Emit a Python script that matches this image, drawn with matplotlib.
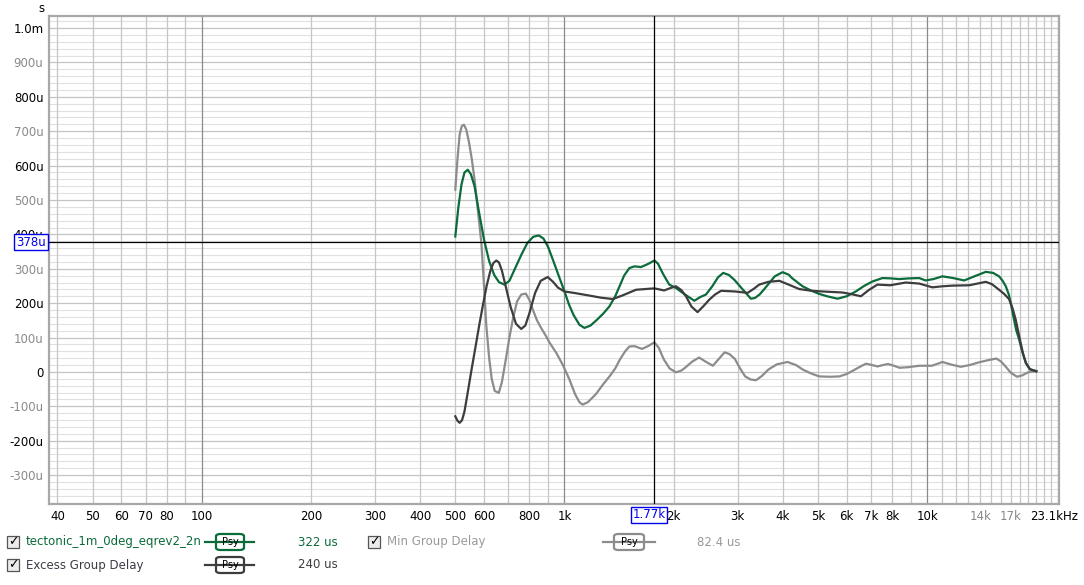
import matplotlib
matplotlib.use("Agg")
import matplotlib.pyplot as plt
from matplotlib.patches import Rectangle, FancyBboxPatch
from matplotlib.lines import Line2D

W, H = 1084, 585

# measured curve: tectonic_1m_0deg_eqrev2_2n (group delay, microseconds)
meas_f = [500, 510, 520, 530, 541, 552, 565, 580, 600, 620, 640, 660, 683, 705, 730,
          760, 790, 820, 849, 875, 900, 930, 960, 1000, 1030, 1060, 1100, 1135, 1180,
          1230, 1280, 1331, 1380, 1420, 1460, 1510, 1560, 1626, 1700, 1770, 1810,
          1870, 1945, 2030, 2150, 2281, 2370, 2455, 2560, 2650, 2740, 2840, 2940,
          3100, 3265, 3350, 3450, 3550, 3673, 3800, 3994, 4150, 4250, 4536, 4800,
          5037, 5300, 5659, 6000, 6357, 6700, 7066, 7530, 7950, 8372, 8900, 9510,
          9900, 10400, 11020, 11800, 12650, 13500, 14510, 15200, 15790, 16150,
          16480, 16800, 17010, 17300, 17600, 17940, 18300, 18720, 19200, 20000]
meas_gd = [394, 480, 545, 580, 588, 575, 540, 470, 385, 322, 282, 261, 254, 265, 300,
           340, 375, 393, 397, 388, 365, 325, 285, 234, 195, 165, 137, 128, 135,
           152, 170, 191, 220, 250, 280, 302, 307, 305, 314, 324, 315,
           285, 254, 244, 225, 207, 218, 225, 250, 275, 288, 282, 268,
           240, 213, 215, 225, 240, 259, 278, 290, 283, 272, 249, 236,
           227, 220, 213, 220, 234, 250, 263, 273, 272, 270, 272, 273,
           266, 270, 278, 273, 266, 278, 291, 288, 278, 265,
           249, 225, 200, 160, 122, 94, 58, 26, 8, 2]

# excess group delay
excess_f = [500, 507, 514, 522, 530, 540, 555, 570, 583, 596, 610, 625, 637, 649,
            660, 672, 690, 710, 735, 760, 780, 800, 830, 860, 899, 930, 960, 1000,
            1060, 1172, 1260, 1359, 1450, 1575, 1770, 1883, 1960, 2030, 2100, 2163,
            2240, 2328, 2420, 2507, 2600, 2703, 2950, 3200, 3330, 3444, 3650, 3912,
            4150, 4440, 4800, 5148, 5848, 6200, 6566, 6900, 7295, 7900, 8730, 9510,
            10340, 11000, 11750, 13060, 14510, 15100, 15790, 16300, 16820, 17200,
            17550, 17850, 18110, 18400, 18720, 19200, 20000]
excess_gd = [-129, -142, -148, -140, -115, -65, 10, 80, 140, 195, 250, 295, 317, 324,
             318, 295, 245, 190, 140, 125, 135, 170, 230, 265, 276, 262, 245, 234,
             230, 222, 216, 212, 223, 239, 243, 237, 244, 249, 238, 220,
             190, 174, 192, 210, 225, 236, 234, 230, 242, 254, 262, 265,
             254, 241, 236, 234, 231, 226, 220, 238, 254, 252, 260, 257,
             246, 249, 251, 252, 262, 255, 239, 227, 212, 185,
             152, 115, 84, 52, 26, 8, 2]

# minimum-phase group delay
min_f = [500, 507, 514, 521, 528, 536, 545, 555, 565, 577, 590, 600, 609, 620, 630,
         642, 659, 672, 690, 705, 721, 740, 760, 782, 800, 820, 840, 860, 885, 910,
         950, 990, 1032, 1070, 1100, 1122, 1160, 1220, 1280, 1331, 1380, 1420, 1470,
         1510, 1560, 1636, 1700, 1770, 1820, 1880, 1950, 2030, 2100, 2150, 2250,
         2350, 2450, 2565, 2650, 2763, 2850, 2950, 3050, 3150, 3260, 3373, 3500,
         3650, 3850, 4120, 4350, 4540, 4800, 5040, 5400, 5730, 6000, 6200, 6500,
         6780, 7050, 7300, 7550, 7800, 8100, 8400, 8900, 9510, 10300, 10700, 11020,
         11600, 12380, 13100, 13900, 14700, 15520, 16000, 16480, 17000, 17700,
         18300, 18900, 19400, 20000]
min_gd = [530, 620, 690, 715, 719, 705, 670, 620, 560, 470, 375, 250, 133, 40, -20,
          -55, -61, -30, 40, 100, 155, 205, 225, 228, 210, 178, 150, 130, 108, 85,
          55, 20, -22, -65, -88, -95, -88, -65, -35, -13, 10, 35, 60,
          74, 75, 67, 75, 86, 70, 36, 10, -1, 4, 12, 30,
          42, 30, 18, 35, 57, 52, 38, 10, -13, -22, -24, -12,
          7, 22, 29, 20, 7, -5, -13, -14, -13, -6, 2, 14,
          24, 20, 16, 20, 23, 18, 12, 14, 18, 18, 24, 29,
          22, 15, 20, 28, 34, 39, 30, 15, -2, -14,
          -10, -2, 1, 2]

cursor_f, cursor_gd = 1770, 378

x_ticks = [40, 50, 60, 70, 80, 100, 200, 300, 400, 500, 600, 800, 1000, 2000,
           3000, 4000, 5000, 6000, 7000, 8000, 10000, 14000, 17000]
x_labels = ["40", "50", "60", "70", "80", "100", "200", "300", "400", "500", "600",
            "800", "1k", "2k", "3k", "4k", "5k", "6k", "7k", "8k", "10k", "14k", "17k"]
y_ticks = [1000, 900, 800, 700, 600, 500, 400, 300, 200, 100, 0, -100, -200, -300]
y_labels = ["1.0m", "900u", "800u", "700u", "600u", "500u", "400u", "300u", "200u",
            "100u", "0", "-100u", "-200u", "-300u"]

GREEN = "#0b6b3a"
DARK = "#3d3d3d"
LIGHT = "#8c8c8c"


def fx(x):
    return x / W


def fy(y):
    return 1 - y / H


fig = plt.figure(figsize=(W / 100, H / 100), dpi=100)
ax = fig.add_axes([fx(49), fy(504), fx(1059) - fx(49), fy(16) - fy(504)])
ax.set_xscale("log")
ax.set_xlim(37.9, 23100)
ax.set_ylim(-384, 1035)

# grid
for v in range(-380, 1040, 20):
    if v % 100:
        ax.axhline(v, color="#e0e0e0", lw=0.8, zorder=0)
for v in range(-300, 1100, 100):
    ax.axhline(v, color="#c4c4c4", lw=0.9, zorder=0)
vlines = [40, 50, 60, 70, 80, 90] + [m * 100 for m in range(2, 10)] \
    + [m * 1000 for m in range(2, 10)] + [m * 1000 for m in range(11, 24)]
for v in vlines:
    ax.axvline(v, color="#c6c6c6", lw=0.9, zorder=0)
for v in [100, 1000, 10000]:
    ax.axvline(v, color="#8a8a8a", lw=0.9, zorder=0)

ax.plot(min_f, min_gd, color=LIGHT, lw=1.6, zorder=3, solid_joinstyle="round")
ax.plot(meas_f, meas_gd, color=GREEN, lw=1.6, zorder=4, solid_joinstyle="round")
ax.plot(excess_f, excess_gd, color=DARK, lw=1.6, zorder=5, solid_joinstyle="round")

ax.axhline(cursor_gd, color="black", lw=0.9, zorder=6)
ax.axvline(cursor_f, color="black", lw=0.9, zorder=6)

for s in ax.spines.values():
    s.set_color("#a8a8a8")
    s.set_linewidth(1.6)

ax.set_xticks(x_ticks)
ax.set_xticklabels(x_labels)
ax.xaxis.set_minor_locator(matplotlib.ticker.NullLocator())
ax.set_yticks(y_ticks)
ax.set_yticklabels(y_labels)
ax.tick_params(length=0, labelsize=8.5, pad=4)
for lab in ax.get_xticklabels():
    lab.set_color("#888888" if lab.get_text() in ("14k", "17k") else "black")
for i, lab in enumerate(ax.get_yticklabels()):
    lab.set_color("black" if i % 2 == 0 else "#8a8a8a")

fig.text(fx(1054), fy(517), "23.1kHz", fontsize=8.5, ha="center", va="center")
fig.text(fx(41), fy(8), "s", fontsize=8.5, ha="center", va="center")

# cursor readouts
fig.text(fx(31), fy(242), "378u", fontsize=8.5, color="#0000ee", ha="center", va="center",
         bbox=dict(boxstyle="square,pad=0.15", fc="white", ec="#0000ee", lw=1), zorder=10)
fig.text(fx(649), fy(515), "1.77k", fontsize=8.5, color="#0000ee", ha="center", va="center",
         bbox=dict(boxstyle="square,pad=0.15", fc="white", ec="#0000ee", lw=1), zorder=10)


def checkbox(x, y):
    fig.add_artist(Rectangle((fx(x - 6), fy(y + 6)), 12 / W, 12 / H, transform=fig.transFigure,
                             fc="#ececec", ec="#555555", lw=0.9))
    fig.text(fx(x), fy(y), "\u2713", fontsize=9, ha="center", va="center", color="black",
             fontweight="bold")


def psy(x0, x1, bx0, bx1, y, color):
    fig.add_artist(Line2D([fx(x0), fx(x1)], [fy(y), fy(y)], transform=fig.transFigure,
                          color=color, lw=1.6))
    fig.add_artist(FancyBboxPatch((fx(bx0), fy(y + 8)), (bx1 - bx0) / W, 16 / H,
                                  boxstyle="round,pad=0,rounding_size=0.004",
                                  transform=fig.transFigure, fc="white", ec=color, lw=1.6))
    fig.text(fx((bx0 + bx1) / 2), fy(y), "Psy", fontsize=7, ha="center", va="center")


checkbox(13, 542)
fig.text(fx(26), fy(542), "tectonic_1m_0deg_eqrev2_2n", fontsize=8.5, color=GREEN, va="center")
psy(205, 254, 216, 244, 542, GREEN)
fig.text(fx(298), fy(542), "322 us", fontsize=8.5, color=GREEN, va="center")

checkbox(13, 565)
fig.text(fx(26), fy(565), "Excess Group Delay", fontsize=8.5, color="#403a48", va="center")
psy(205, 254, 216, 244, 565, DARK)
fig.text(fx(298), fy(565), "240 us", fontsize=8.5, color=DARK, va="center")

checkbox(374, 542)
fig.text(fx(387), fy(542), "Min Group Delay", fontsize=8.5, color="#9a9a9a", va="center")
psy(603, 655, 614, 644, 542, LIGHT)
fig.text(fx(697), fy(542), "82.4 us", fontsize=8.5, color="#9a9a9a", va="center")

fig.savefig("out.png", dpi=100)
